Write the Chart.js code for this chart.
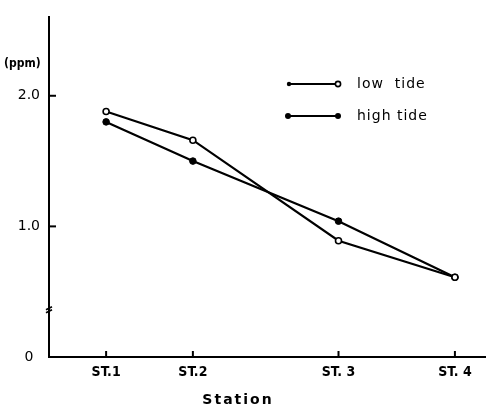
<!DOCTYPE html>
<html><head><meta charset="utf-8">
<script src="https://cdn.jsdelivr.net/npm/chart.js@4"></script>
<style>html,body{margin:0;padding:0;background:#fff}#wrap{width:491px;height:407px;position:relative}</style>
</head><body><div id="wrap"><canvas id="c"></canvas></div>
<script>
const stations = ['ST.1', 'ST.2', 'ST. 3', 'ST. 4'];
const stationPos = [1.31, 3.30, 6.64, 9.31];
const lowTide = [1.88, 1.66, 0.89, 0.61];
const highTide = [1.80, 1.50, 1.04, 0.61];
const yTicks = [0, 1, 2];
const yTickLabels = ['0', '1.0', '2.0'];
const seriesNames = ['low  tide', 'high tide'];
const yUnit = '(ppm)';
const xTitle = 'Station';
const axisBreakValue = 0.37;

const FONT = "'DejaVu Sans', sans-serif";
const FONT_C = "'DejaVu Sans Condensed', 'DejaVu Sans', sans-serif";

const extras = {
  id: 'extras',
  afterDraw(chart) {
    const ctx = chart.ctx;
    const xs = chart.scales.x, ys = chart.scales.y;
    const area = chart.chartArea;
    ctx.save();
    ctx.strokeStyle = '#000';
    ctx.fillStyle = '#000';
    ctx.lineWidth = 2;
    // inward ticks on y
    yTicks.forEach(v => {
      if (v === 0) return;
      const y = ys.getPixelForValue(v);
      ctx.beginPath(); ctx.moveTo(area.left, y); ctx.lineTo(area.left + 7, y); ctx.stroke();
    });
    // inward ticks on x
    stationPos.forEach(v => {
      const x = xs.getPixelForValue(v);
      ctx.beginPath(); ctx.moveTo(x, area.bottom); ctx.lineTo(x, area.bottom - 6); ctx.stroke();
    });
    // axis break mark
    const by = ys.getPixelForValue(axisBreakValue);
    ctx.lineWidth = 1.6;
    ctx.beginPath(); ctx.moveTo(area.left - 3, by + 1); ctx.lineTo(area.left + 3, by - 2); ctx.stroke();
    ctx.beginPath(); ctx.moveTo(area.left - 3, by + 4); ctx.lineTo(area.left + 3, by + 1); ctx.stroke();
    // unit label
    ctx.font = "bold 12px " + FONT_C;
    ctx.textAlign = 'left'; ctx.textBaseline = 'middle';
    ctx.fillText(yUnit, 4, 64);
    // x title
    ctx.font = "bold 14px " + FONT;
    ctx.textAlign = 'center'; ctx.textBaseline = 'middle';
    try { ctx.letterSpacing = '2px'; } catch (e) {}
    ctx.fillText(xTitle, 238, 400);
    // legend
    try { ctx.letterSpacing = '1px'; } catch (e) {}
    ctx.font = "14px " + FONT;
    ctx.textAlign = 'left';
    const legY = [84, 116];
    chart.data.datasets.forEach((ds, i) => {
      const y = legY[i];
      ctx.lineWidth = 2;
      ctx.beginPath(); ctx.moveTo(289, y); ctx.lineTo(338, y); ctx.stroke();
      if (i === 0) {
        ctx.beginPath(); ctx.arc(289, y, 2.2, 0, Math.PI * 2); ctx.fill();
        ctx.beginPath(); ctx.arc(338, y, 2.6, 0, Math.PI * 2);
        ctx.fillStyle = '#fff'; ctx.fill(); ctx.fillStyle = '#000'; ctx.lineWidth = 1.6; ctx.stroke();
      } else {
        ctx.beginPath(); ctx.arc(288, y, 3, 0, Math.PI * 2); ctx.fill();
        ctx.beginPath(); ctx.arc(338, y, 3, 0, Math.PI * 2); ctx.fill();
      }
      ctx.fillText(ds.label, 357, y);
    });
    ctx.restore();
  }
};

new Chart(document.getElementById('c'), {
  type: 'line',
  data: {
    datasets: [
      {
        label: seriesNames[0],
        data: stationPos.map((x, i) => ({ x, y: lowTide[i] })),
        borderColor: '#000', borderWidth: 2.2,
        pointRadius: 3, pointBorderWidth: 1.6,
        pointBackgroundColor: '#fff', pointBorderColor: '#000',
        tension: 0, fill: false
      },
      {
        label: seriesNames[1],
        data: stationPos.map((x, i) => ({ x, y: highTide[i] })),
        borderColor: '#000', borderWidth: 2.2,
        pointRadius: 3.3, pointBorderWidth: 1,
        pointBackgroundColor: '#000', pointBorderColor: '#000',
        tension: 0, fill: false
      }
    ]
  },
  options: {
    responsive: true, maintainAspectRatio: false, animation: false,
    layout: { padding: { left: 0, right: 6, top: 13, bottom: 0 } },
    plugins: { legend: { display: false }, tooltip: { enabled: false } },
    scales: {
      x: {
        type: 'linear', min: 0, max: 10,
        afterBuildTicks: s => { s.ticks = stationPos.map(v => ({ value: v })); },
        afterFit: s => { s.height = 50; },
        ticks: {
          autoSkip: false, maxRotation: 0, color: '#000', padding: 7,
          font: { family: FONT_C, size: 14, weight: 'bold' },
          callback: (v, i) => stations[i]
        },
        grid: { drawOnChartArea: false, drawTicks: false },
        border: { color: '#000', width: 2 }
      },
      y: {
        min: 0, max: 2.6,
        afterBuildTicks: s => { s.ticks = yTicks.map(v => ({ value: v })); },
        afterFit: s => { s.width = 49; },
        ticks: {
          color: '#000', padding: 9, crossAlign: 'center',
          font: { family: FONT, size: 14 },
          callback: (v, i) => yTickLabels[i]
        },
        grid: { drawOnChartArea: false, drawTicks: false },
        border: { color: '#000', width: 2 }
      }
    }
  },
  plugins: [extras]
});
</script></body></html>
